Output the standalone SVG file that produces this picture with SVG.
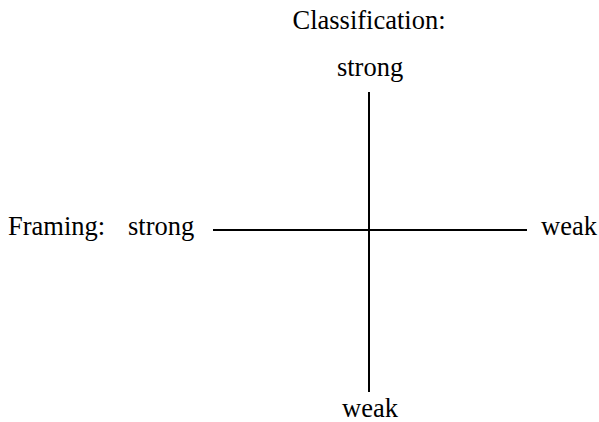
<svg xmlns="http://www.w3.org/2000/svg" width="599" height="422" viewBox="0 0 599 422">
<style>
text{font-family:"Liberation Serif","Times New Roman",serif;font-size:26.5px;fill:#000}
.ax{stroke:#000;stroke-width:2;fill:none}
</style>
<rect width="599" height="422" fill="#fff"/>
<g id="connectors">
<line class="ax" x1="369" y1="92" x2="369" y2="392"/>
<line class="ax" x1="213" y1="230" x2="527" y2="230"/>
</g>
<g id="classification"><text x="369" y="29" text-anchor="middle">Classification:</text></g>
<g id="class-strong"><text x="370" y="76" text-anchor="middle">strong</text></g>
<g id="class-weak"><text x="370" y="417" text-anchor="middle">weak</text></g>
<g id="framing"><text x="8" y="235">Framing:</text></g>
<g id="frame-strong"><text x="128" y="235">strong</text></g>
<g id="frame-weak"><text x="541" y="235">weak</text></g>
</svg>
